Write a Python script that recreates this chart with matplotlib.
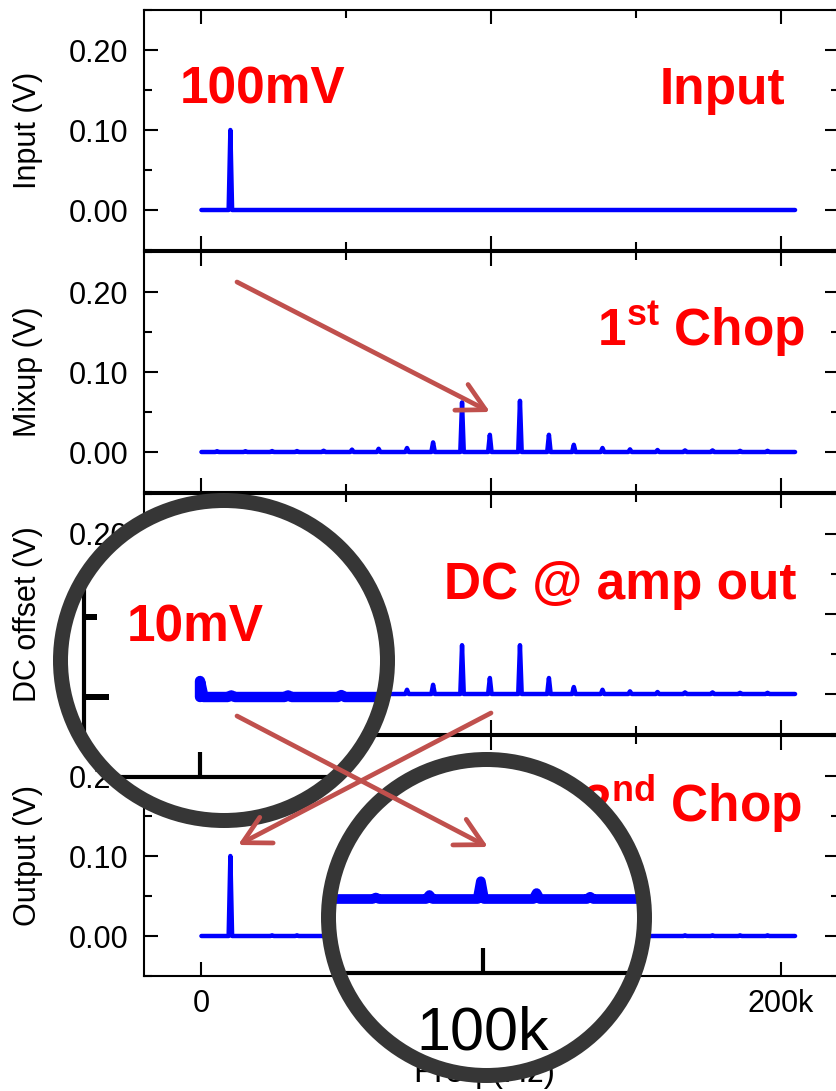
import numpy as np
import matplotlib.pyplot as plt
from matplotlib.patches import Ellipse
from matplotlib.transforms import Affine2D
from matplotlib.ticker import MultipleLocator

plt.rcParams['font.family'] = ['Liberation Sans', 'DejaVu Sans']
plt.rcParams['mathtext.fontset'] = 'custom'
plt.rcParams['mathtext.rm'] = 'Liberation Sans'
plt.rcParams['mathtext.bf'] = 'Liberation Sans:bold'

W, H = 836, 1091

# spectrum peaks: frequency (Hz) and amplitude (V)
f_stop = 205000
input_f = [10000]
input_v = [0.100]

mixup_f = [5400, 15200, 24400, 33000, 42200, 52000, 61200, 71000, 80000, 90000, 99600,
           110000, 120000, 128600, 138500, 148000, 157500, 167000, 176500, 186000, 195500]
mixup_v = [0.001, 0.001, 0.0012, 0.0012, 0.0016, 0.003, 0.004, 0.005, 0.012, 0.062, 0.0215,
           0.064, 0.0215, 0.009, 0.005, 0.0033, 0.0025, 0.002, 0.002, 0.0015, 0.0015]

dc_f = [0] + mixup_f
dc_v = [0.010, 0.001, 0.001, 0.0012, 0.0012, 0.0016, 0.003, 0.004, 0.0053, 0.0115, 0.061, 0.020,
        0.061, 0.020, 0.0087, 0.0053, 0.0033, 0.0025, 0.002, 0.002, 0.0015, 0.0015]

output_f = [10000, 24400, 33000, 80000, 90000, 99600, 110000, 120000, 167000, 176500, 186000, 195500]
output_v = [0.100, 0.0008, 0.0008, 0.001, 0.0027, 0.012, 0.004, 0.0015, 0.0008, 0.0008, 0.0008, 0.0008]

ylabels = ['Input (V)', 'Mixup (V)', 'DC offset (V)', 'Output (V)']
tags = ['Input', r'$\mathbf{1^{st}}$ Chop', 'DC @ amp out', r'$\mathbf{2^{nd}}$ Chop']

xticks = [0, 100000, 200000]
xtick_labels = ['0', '100k', '200k']
yticks = [0.0, 0.1, 0.2]
ytick_labels = ['0.00', '0.10', '0.20']

BLUE = '#0000FF'
RED = '#FF0000'
ARROW = '#C0504D'
RING = '#363636'


def trace(peak_f, peak_v, half=600):
    x, y = [0.0], [0.0]
    for f, v in zip(peak_f, peak_v):
        if f == 0:
            x += [0, half]
            y += [v, 0]
        else:
            x += [f - half, f, f + half]
            y += [0, v, 0]
    x.append(f_stop)
    y.append(0)
    return np.array(x), np.array(y)


def box(left, top, w, h):
    return [left / W, 1 - (top + h) / H, w / W, h / H]


fig = plt.figure(figsize=(W / 100, H / 100), dpi=100)
# pixel coordinates, origin at top left
px = Affine2D().scale(1 / W, -1 / H).translate(0, 1) + fig.transFigure

series = [(input_f, input_v), (mixup_f, mixup_v), (dc_f, dc_v), (output_f, output_v)]
tops = [10, 252, 494, 736]
tag_pos = [(785, 104), (805, 345), (797, 599), (802, 822)]

axes = []
for i, (pf, pv) in enumerate(series):
    ax = fig.add_axes(box(143.5, tops[i], 695, 240))
    x, y = trace(pf, pv)
    ax.plot(x, y, color=BLUE, lw=3.2, solid_capstyle='round', solid_joinstyle='round')
    ax.set_xlim(-20000, 220000)
    ax.set_ylim(-0.05, 0.25)
    ax.set_xticks(xticks, xtick_labels)
    ax.set_yticks(yticks, ytick_labels)
    ax.xaxis.set_minor_locator(MultipleLocator(50000))
    ax.yaxis.set_minor_locator(MultipleLocator(0.05))
    ax.tick_params(which='both', direction='in', top=True, right=True, width=1.5)
    ax.tick_params(which='major', length=10)
    ax.tick_params(which='minor', length=6)
    ax.tick_params(axis='y', labelsize=22, pad=11)
    ax.tick_params(axis='x', labelsize=22, pad=9.5, labelbottom=(i == 3))
    for sp in ax.spines.values():
        sp.set_linewidth(1.5)
    ax.set_ylabel(ylabels[i], fontsize=22)
    ax.yaxis.set_label_coords(-0.144, 0.5)
    ax.text(tag_pos[i][0], tag_pos[i][1], tags[i], transform=px, ha='right', va='baseline',
            color=RED, fontsize=37, fontweight='bold')
    axes.append(ax)

axes[0].text(180, 104, '100mV', transform=px, ha='left', va='baseline',
             color=RED, fontsize=37, fontweight='bold')
axes[3].set_xlabel('Freq (Hz)', fontsize=24)
axes[3].xaxis.set_label_coords(0.49, -0.34)

# magnifier lenses: centre, width, height in pixels
lenses = [((224, 660.5), 327, 320), ((486.5, 917.5), 316, 316)]

mask = fig.add_axes([0, 0, 1, 1], zorder=1)
mask.axis('off')
for c, w, h in lenses:
    mask.add_patch(Ellipse(c, w, h, transform=px, facecolor='white', edgecolor='none'))


def lens_axes(rect, pf, pv, lw, clip):
    ax = fig.add_axes(rect, zorder=2)
    ax.patch.set_visible(False)
    x, y = trace(pf, pv)
    ax.plot(x, y, color=BLUE, lw=lw, solid_capstyle='round', solid_joinstyle='round')
    ax.set_xlim(-20000, 220000)
    ax.set_ylim(-0.05, 0.25)
    ax.set_xticks(xticks)
    ax.set_yticks(yticks)
    ax.xaxis.set_minor_locator(MultipleLocator(50000))
    ax.yaxis.set_minor_locator(MultipleLocator(0.05))
    ax.tick_params(which='both', direction='in', width=3, labelbottom=False, labelleft=False)
    ax.tick_params(which='major', length=18)
    ax.tick_params(which='minor', length=9.5)
    for ln in ax.lines:
        ln.set_clip_path(clip)
    for sp in ax.spines.values():
        sp.set_linewidth(3)
        sp.set_clip_box(None)
        sp.set_clip_on(True)
        sp.set_clip_path(clip)
    for axis in (ax.xaxis, ax.yaxis):
        for t in axis.get_major_ticks() + axis.get_minor_ticks():
            for ln in (t.tick1line, t.tick2line):
                ln.set_clip_box(None)
                ln.set_clip_on(True)
                ln.set_clip_path(clip)
    return ax


clip1 = Ellipse(*lenses[0], transform=px)
clip2 = Ellipse(*lenses[1], transform=px)
# DC offset panel at 2x around the origin
lens_axes(box(84.2, 777 - 480, 1390, 480), dc_f, dc_v, 7.5, clip1)
# output panel at 1.85x around 100k
lens_axes(box(483 - 120 * 5.358, 973 - 444, 240 * 5.358, 444), output_f, output_v, 7, clip2)

ov = fig.add_axes([0, 0, 1, 1], zorder=3)
ov.axis('off')
ov.set_xlim(0, W)
ov.set_ylim(H, 0)
for c, w, h in lenses:
    ov.add_patch(Ellipse(c, w, h, facecolor='none', edgecolor=RING, lw=10.8))

ov.text(127, 642, '10mV', ha='left', va='baseline', color=RED, fontsize=37, fontweight='bold')
ov.text(483, 1050, '100k', ha='center', va='baseline', color='black', fontsize=44)

arrows = [((237, 282), (490, 412)), ((237, 716), (488, 847)), ((491, 713), (238, 845))]
for start, tip in arrows:
    ov.annotate('', xy=tip, xytext=start,
                arrowprops=dict(arrowstyle='->,head_length=0.75,head_width=0.4', lw=3.4,
                                color=ARROW, shrinkA=0, shrinkB=0, mutation_scale=26))

fig.savefig('out.png', dpi=100, facecolor='white')
